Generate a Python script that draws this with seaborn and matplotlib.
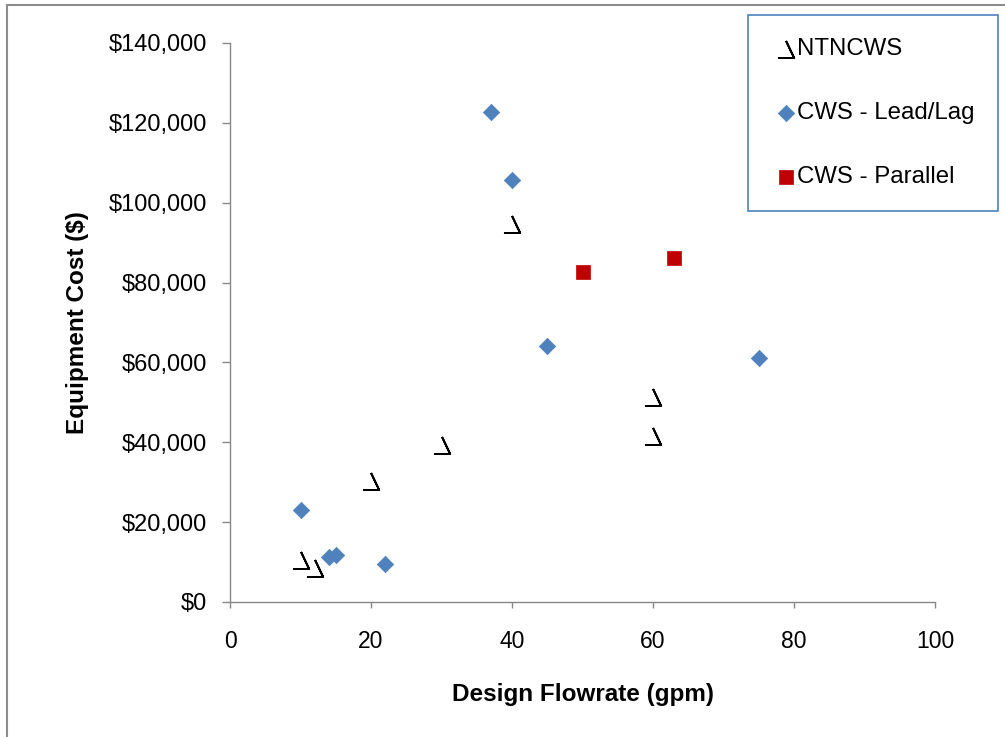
import numpy as np
import matplotlib
matplotlib.use("Agg")
import matplotlib.pyplot as plt
from matplotlib.path import Path
from matplotlib.patches import Rectangle
from matplotlib.ticker import FuncFormatter, MultipleLocator
import seaborn as sns

# data
ntncws_flow = [10, 12, 20, 30, 40, 60, 60]
ntncws_cost = [10500, 8500, 30300, 39300, 94600, 51300, 41600]

leadlag_flow = [10, 14, 15, 22, 37, 40, 45, 75]
leadlag_cost = [23000, 11300, 11800, 9500, 122700, 105600, 64100, 61100]

parallel_flow = [50, 63]
parallel_cost = [82700, 86200]

series_labels = ["NTNCWS", "CWS - Lead/Lag", "CWS - Parallel"]

sns.set_style("white")
plt.rcParams['font.family'] = ['Liberation Sans', 'DejaVu Sans']
plt.rcParams['text.color'] = 'black'
plt.rcParams['axes.labelcolor'] = 'black'
plt.rcParams['xtick.labelcolor'] = 'black'
plt.rcParams['ytick.labelcolor'] = 'black'

# open "check" marker (retraced so the fill has no area)
hook = Path([(-0.05, 1.0), (0.9, -1.0), (-0.9, -1.0), (0.9, -1.0), (-0.05, 1.0)],
            [Path.MOVETO, Path.LINETO, Path.LINETO, Path.LINETO, Path.LINETO])

fig = plt.figure(figsize=(10.05, 7.37), dpi=100)
ax = fig.add_axes([230 / 1005, 1 - 602 / 737, 705 / 1005, 559 / 737])

sns.scatterplot(x=ntncws_flow, y=ntncws_cost, marker=hook, s=150, color='black',
                edgecolor='black', linewidth=1.4, label=series_labels[0], ax=ax)
sns.scatterplot(x=leadlag_flow, y=leadlag_cost, marker='D', s=70, color='#4F81BD',
                edgecolor='#4F81BD', linewidth=0.5, label=series_labels[1], ax=ax)
sns.scatterplot(x=parallel_flow, y=parallel_cost, marker='s', s=95, color='#C00000',
                edgecolor='#C00000', linewidth=0.5, label=series_labels[2], ax=ax)

ax.set_xlim(0, 100)
ax.set_ylim(0, 140000)
ax.xaxis.set_major_locator(MultipleLocator(20))
ax.yaxis.set_major_locator(MultipleLocator(20000))
ax.yaxis.set_major_formatter(FuncFormatter(lambda v, p: '${:,.0f}'.format(v)))

for side in ['top', 'right']:
    ax.spines[side].set_visible(False)
for side in ['left', 'bottom']:
    ax.spines[side].set_color('#888888')
    ax.spines[side].set_linewidth(1.0)

ax.tick_params(axis='x', direction='out', length=4.5, width=1, color='#888888',
               labelsize=16.5, labelcolor='black', pad=16, bottom=True)
ax.tick_params(axis='y', direction='out', length=5.8, width=1, color='#888888',
               labelsize=17, labelcolor='black', pad=11, left=True)

ax.set_xlabel('Design Flowrate (gpm)', fontsize=17.5, fontweight='bold',
              labelpad=21, color='black')
ax.set_ylabel('Equipment Cost ($)', fontsize=17.5, fontweight='bold',
              labelpad=14, color='black')

leg = ax.legend(loc='upper left', bbox_to_anchor=(748 / 1005, 1 - 15 / 737),
                bbox_transform=fig.transFigure, borderaxespad=0, fontsize=17.3,
                frameon=True, fancybox=False, framealpha=1, borderpad=0.95,
                handlelength=1.3, handletextpad=-0.2, labelspacing=1.76)
leg.get_frame().set_edgecolor('#4F81BD')
leg.get_frame().set_linewidth(1.2)
for t in leg.get_texts():
    t.set_color('black')

# outer chart border
fig.patches.append(Rectangle((7 / 1005, -0.05), 1.1, 1.05 - 5 / 737,
                             transform=fig.transFigure, fill=False,
                             edgecolor='#8C8C8C', linewidth=1.5, clip_on=False))

fig.savefig('out.png', dpi=100)
